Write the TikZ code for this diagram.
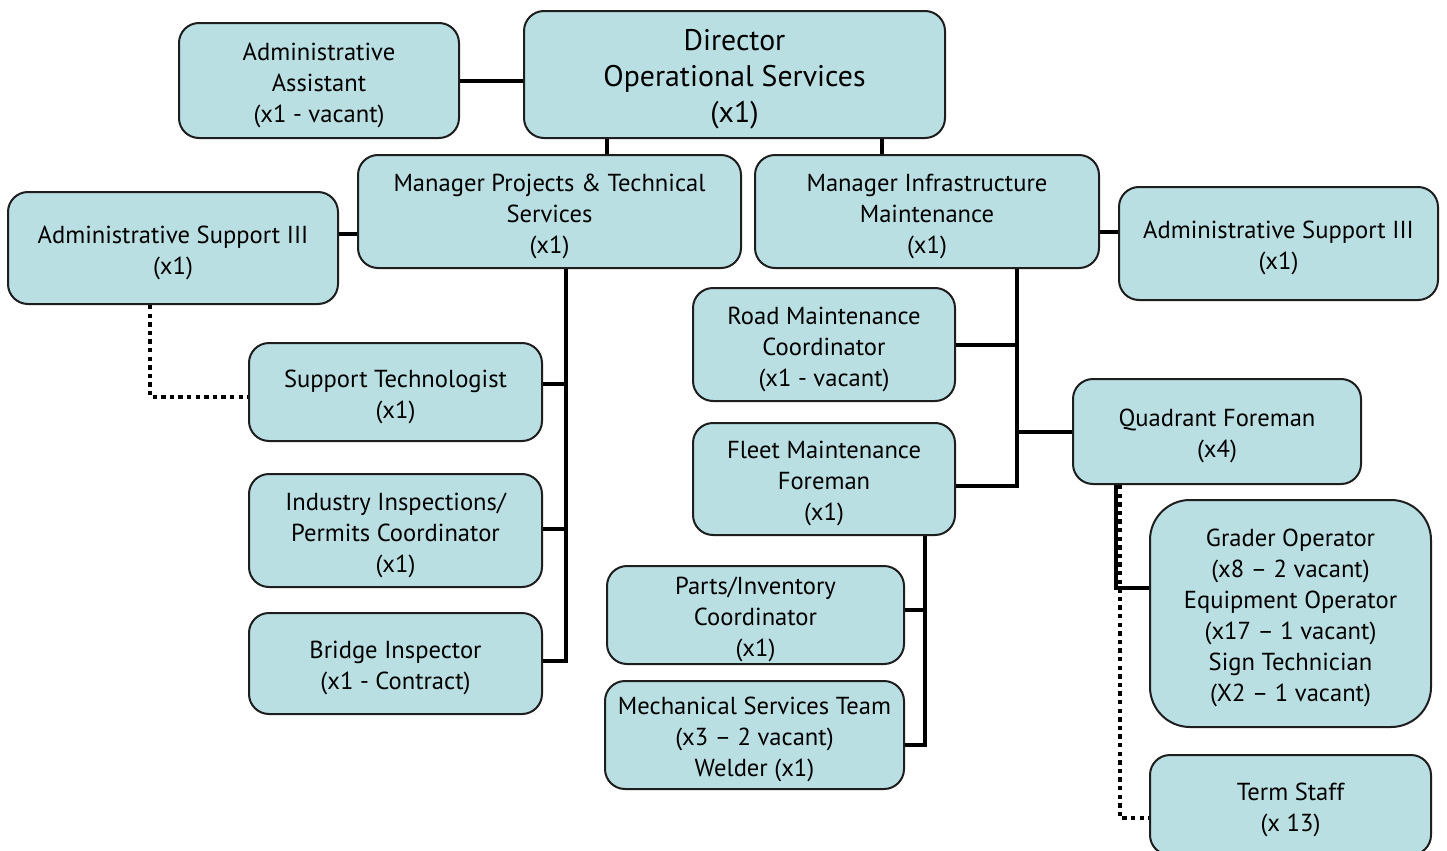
\documentclass[tikz,border=0pt]{standalone}
\usepackage{fontspec}
\setmainfont{PT Sans}
\usetikzlibrary{calc}
\definecolor{boxfill}{HTML}{BADFE3}
\definecolor{boxline}{HTML}{1E1E1E}
\tikzset{
  box/.style={draw=boxline, line width=1pt, fill=boxfill, rounded corners=10pt,
    inner sep=0pt},
  lbl/.style={align=center, inner sep=0pt, yshift=-2.4pt,
    font=\fontsize{12.3}{15.5}\selectfont},
  biglbl/.style={lbl, font=\fontsize{14.9}{18}\selectfont},
  txt/.style={label={[lbl]center:{#1}}},
  bigtxt/.style={label={[biglbl]center:{#1}}},
  conn/.style={line width=2pt, black},
  dotconn/.style={line width=2pt, black, dash pattern=on 2.2pt off 2.1pt},
}
\begin{document}
\begin{tikzpicture}[x=0.5pt, y=-0.5pt]
\clip (0,0) rectangle (1447,851);
\fill[white] (0,0) rectangle (1447,851);

% top level
\node[box, minimum width=210.5pt, minimum height=63.5pt,
  bigtxt={Director\\Operational Services\\(x1)}] (dir) at (734.5,74.5) {};
\node[box, minimum width=140pt, minimum height=57.5pt,
  txt={Administrative\\Assistant\\(x1 - vacant)}] (aa) at (319,80.5) {};

% managers
\node[box, minimum width=191.5pt, minimum height=56.5pt,
  txt={Manager Projects \& Technical\\Services\\(x1)}] (mp) at (549.5,211.5) {};
\node[box, minimum width=172pt, minimum height=56.5pt,
  txt={Manager Infrastructure\\Maintenance\\(x1)}] (mi) at (927,211.5) {};
\node[box, minimum width=165pt, minimum height=56pt,
  txt={Administrative Support III\\(x1)}] (asl) at (173,248) {};
\node[box, minimum width=159.5pt, minimum height=56.5pt,
  txt={Administrative Support III\\(x1)}] (asr) at (1278.5,243.5) {};

% projects & technical services
\node[box, minimum width=146.5pt, minimum height=49pt,
  txt={Support Technologist\\(x1)}] (st) at (395.5,392) {};
\node[box, minimum width=146.5pt, minimum height=56.5pt,
  txt={Industry Inspections/\\Permits Coordinator\\(x1)}] (ii) at (395.5,530.5) {};
\node[box, minimum width=146.5pt, minimum height=50.5pt,
  txt={Bridge Inspector\\(x1 - Contract)}] (bi) at (395.5,663.5) {};

% infrastructure maintenance
\node[box, minimum width=131pt, minimum height=56.5pt,
  txt={Road Maintenance\\Coordinator\\(x1 - vacant)}] (rm) at (824,344.5) {};
\node[box, minimum width=131pt, minimum height=56pt,
  txt={Fleet Maintenance\\Foreman\\(x1)}] (fm) at (824,479) {};
\node[box, minimum width=144pt, minimum height=52.5pt,
  txt={Quadrant Foreman\\(x4)}] (qf) at (1217,431.5) {};
\node[box, minimum width=148.5pt, minimum height=49pt,
  txt={Parts/Inventory\\Coordinator\\(x1)}] (pi) at (755.5,615) {};
\node[box, minimum width=149.5pt, minimum height=54pt,
  txt={Mechanical Services Team\\(x3 -- 2 vacant)\\Welder (x1)}] (ms) at (754.5,735) {};
\node[box, minimum width=140.5pt, minimum height=113.5pt, rounded corners=20pt,
  txt={Grader Operator\\(x8 -- 2 vacant)\\Equipment Operator\\(x17 -- 1 vacant)\\Sign Technician\\(X2 -- 1 vacant)}]
  (go) at (1290.5,613.5) {};
\node[box, minimum width=140.5pt, minimum height=50pt,
  txt={Term Staff\\(x 13)}] (ts) at (1290.5,805) {};

% trunk lines
\coordinate (tP) at (566,0);
\coordinate (tI) at (1017,0);
\coordinate (tF) at (925,0);
\coordinate (tQ) at (1116,0);
\coordinate (tQd) at (1120,0);
\coordinate (tL) at (150,0);
\coordinate (dL) at (607,0);
\coordinate (dR) at (882,0);

% director links
\draw[conn] (aa.east) -- (aa.east -| dir.west);
\draw[conn] (dir.south -| dL) -- (mp.north -| dL);
\draw[conn] (dir.south -| dR) -- (mi.north -| dR);
\draw[conn] ([yshift=7pt]asl.east) -- ([yshift=7pt]asl.east -| mp.west);
\draw[conn] ([yshift=-10.25pt]mi.east) -- ([yshift=-10.25pt]mi.east -| asr.west);

% projects & technical services branch
\draw[conn] (mp.south -| tP) |- ([yshift=1.25pt]bi.east);
\draw[conn] ([yshift=4pt]st.east) -- ([yshift=4pt]st.east -| tP);
\draw[conn] ([yshift=0.75pt]ii.east) -- ([yshift=0.75pt]ii.east -| tP);

% infrastructure maintenance branch
\draw[conn] (mi.south -| tI) |- ([yshift=-3.5pt]fm.east);
\draw[conn] (rm.east) -- (rm.east -| tI);
\draw[conn] (qf.west) -- (qf.west -| tI);

% fleet branch
\draw[conn] (fm.south -| tF) |- ([yshift=-5pt]ms.east);
\draw[conn] ([yshift=2.5pt]pi.east) -- ([yshift=2.5pt]pi.east -| tF);

% quadrant foreman branch
\draw[conn] (qf.south -| tQ) |- ([yshift=12.75pt]go.west);
\draw[dotconn] (qf.south -| tQd) |- ([yshift=-6.5pt]ts.west);

% dotted link to support technologist
\draw[dotconn] (asl.south -| tL) |- ([yshift=-2.5pt]st.west);
\end{tikzpicture}
\end{document}
